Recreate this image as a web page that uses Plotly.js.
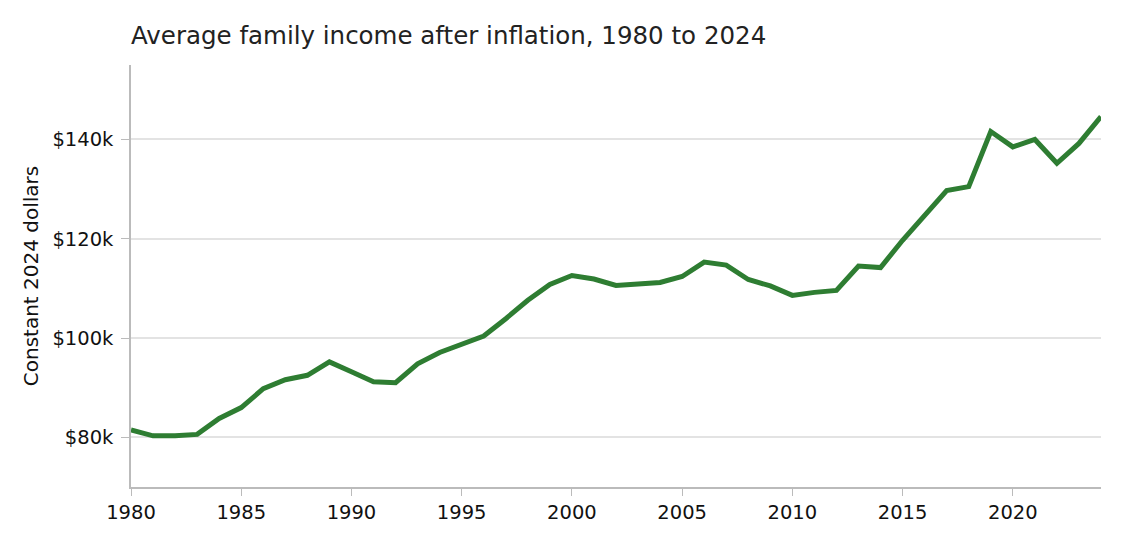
<!DOCTYPE html>
<html>
<head>
<meta charset="utf-8">
<script src="https://cdn.plot.ly/plotly-3.0.1.min.js"></script>
<style>
  html, body { margin: 0; padding: 0; background: #fff; }
  #chart { width: 1125px; height: 546px; }
</style>
</head>
<body>
<div id="chart"></div>
<script>
// years and average family income (constant 2024 dollars)
var years = [1980, 1981, 1982, 1983, 1984, 1985, 1986, 1987, 1988, 1989,
             1990, 1991, 1992, 1993, 1994, 1995, 1996, 1997, 1998, 1999,
             2000, 2001, 2002, 2003, 2004, 2005, 2006, 2007, 2008, 2009,
             2010, 2011, 2012, 2013, 2014, 2015, 2016, 2017, 2018, 2019,
             2020, 2021, 2022, 2023, 2024];
var income = [81500, 80300, 80300, 80600, 83800, 86000, 89800, 91600, 92500, 95200,
              93200, 91200, 91000, 94800, 97100, 98700, 100400, 103900, 107600, 110800,
              112600, 111900, 110600, 110900, 111200, 112400, 115300, 114700, 111800, 110500,
              108600, 109200, 109600, 114500, 114200, 119700, 124800, 129700, 130500, 141600,
              138500, 140000, 135200, 139200, 144600];

var xTicks = [1980, 1985, 1990, 1995, 2000, 2005, 2010, 2015, 2020];
var yTicks = [80000, 100000, 120000, 140000];
var yLabels = ['$80k', '$100k', '$120k', '$140k'];

var data = [{
  x: years,
  y: income,
  mode: 'lines',
  line: { color: '#2e7d32', width: 5 },
  hoverinfo: 'x+y'
}];

var layout = {
  width: 1125,
  height: 546,
  showlegend: false,
  paper_bgcolor: '#fff',
  plot_bgcolor: '#fff',
  font: { family: 'DejaVu Sans', size: 19.5, color: '#222' },
  title: {
    text: 'Average family income after inflation, 1980 to 2024',
    font: { family: 'DejaVu Sans', size: 24.5, color: '#222' },
    x: 131 / 1125,
    xanchor: 'left',
    y: 1 - 35 / 546,
    yanchor: 'middle'
  },
  margin: { l: 131, r: 24, t: 65, b: 59, pad: 0 },
  xaxis: {
    range: [1980, 2024],
    tickvals: xTicks,
    showgrid: false,
    zeroline: false,
    showline: true,
    linecolor: '#bbb',
    linewidth: 1.5,
    ticks: 'outside',
    ticklen: 7,
    tickcolor: '#bbb',
    tickfont: { size: 19.5, color: '#111' }
  },
  yaxis: {
    range: [70000, 155000],
    tickvals: yTicks,
    ticktext: yLabels,
    showgrid: true,
    gridcolor: '#e3e3e3',
    gridwidth: 1.5,
    zeroline: false,
    showline: true,
    linecolor: '#bbb',
    linewidth: 1.5,
    ticks: 'outside',
    ticklen: 8,
    tickcolor: '#bbb',
    ticklabelstandoff: 4,
    tickfont: { size: 19.5, color: '#111' },
    title: {
      text: 'Constant 2024 dollars',
      font: { size: 20, color: '#111' },
      standoff: 8
    }
  }
};

var config = { displayModeBar: false, responsive: false };

Plotly.newPlot('chart', data, layout, config);
</script>
</body>
</html>
